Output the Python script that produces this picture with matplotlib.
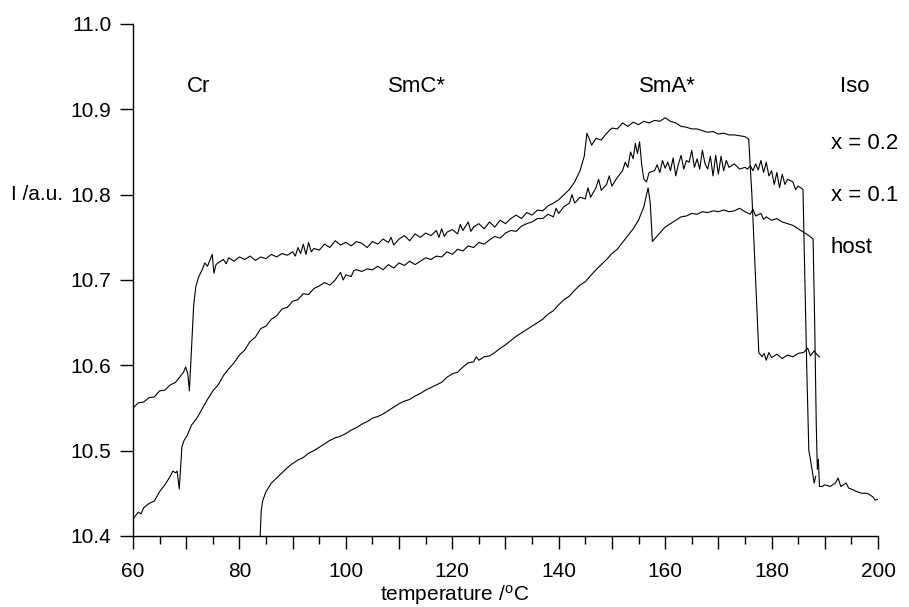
import matplotlib
matplotlib.use("Agg")
import matplotlib.pyplot as plt
from matplotlib.ticker import MultipleLocator, FuncFormatter

plt.rcParams['font.family'] = ['Liberation Sans', 'DejaVu Sans']
plt.rcParams['mathtext.default'] = 'regular'

# x = 0.2 sample (top plateau, drops at ~177 C)
t_02 = [60, 61, 62, 63, 64, 65, 66, 67, 68, 69, 69.5, 69.9, 70.3, 70.6, 71.0, 71.4, 71.8, 72.3, 73.0, 73.5,
        74.0, 74.5, 74.9, 75.2, 75.6, 76, 77, 77.5, 78, 79, 80, 81, 82, 83, 84, 85, 86, 87, 88, 89,
        90, 90.5, 91, 91.5, 92, 92.5, 93, 93.5, 94, 95, 96, 97, 98, 99, 100, 101, 102, 103, 104, 105,
        106, 107, 108, 108.5, 109, 110, 111, 112, 113, 114, 115, 116, 117, 117.5, 118, 118.5, 119, 120, 121, 121.5,
        122, 123, 123.5, 124, 125, 126, 127, 128, 129, 130, 131, 132, 133, 134, 135, 136, 137, 138, 139, 140,
        141, 142, 143, 144, 144.8, 145.3, 145.7, 146.2, 147, 148, 149, 150, 151, 152, 153, 154, 155, 156, 157, 158,
        159, 160, 161, 162, 163, 164, 165, 166, 167, 168, 169, 170, 171, 172, 173, 174, 175, 175.7, 176.3, 177.0,
        177.6, 178.2, 178.6, 179, 179.5, 180, 181, 182, 183, 184, 185, 186, 186.8, 187.3, 188, 188.6, 189]
i_02 = [10.550, 10.556, 10.557, 10.562, 10.563, 10.570, 10.571, 10.577, 10.580, 10.588, 10.592, 10.598, 10.590, 10.570, 10.620, 10.670, 10.692, 10.703, 10.712, 10.720,
        10.716, 10.724, 10.730, 10.708, 10.718, 10.720, 10.724, 10.719, 10.726, 10.722, 10.727, 10.724, 10.728, 10.723, 10.727, 10.725, 10.730, 10.727, 10.731, 10.729,
        10.733, 10.728, 10.738, 10.731, 10.742, 10.730, 10.744, 10.733, 10.737, 10.735, 10.742, 10.738, 10.746, 10.741, 10.744, 10.740, 10.745, 10.743, 10.738, 10.745,
        10.742, 10.748, 10.744, 10.750, 10.741, 10.748, 10.752, 10.746, 10.754, 10.750, 10.755, 10.752, 10.758, 10.750, 10.760, 10.751, 10.756, 10.759, 10.754, 10.765,
        10.758, 10.768, 10.757, 10.762, 10.766, 10.760, 10.768, 10.762, 10.770, 10.766, 10.772, 10.776, 10.772, 10.779, 10.776, 10.782, 10.781, 10.787, 10.790, 10.794,
        10.800, 10.806, 10.815, 10.828, 10.845, 10.872, 10.866, 10.858, 10.866, 10.864, 10.872, 10.878, 10.877, 10.884, 10.880, 10.885, 10.882, 10.886, 10.884, 10.887,
        10.886, 10.890, 10.886, 10.884, 10.880, 10.879, 10.877, 10.877, 10.875, 10.873, 10.874, 10.871, 10.872, 10.870, 10.870, 10.869, 10.868, 10.865, 10.800, 10.700,
        10.615, 10.610, 10.614, 10.606, 10.615, 10.609, 10.613, 10.608, 10.612, 10.610, 10.614, 10.615, 10.620, 10.611, 10.617, 10.612, 10.610]

# x = 0.1 sample (middle plateau, drops at ~186 C)
t_01 = [60, 60.5, 61, 61.5, 62, 63, 64, 65, 66, 67, 67.5, 68, 68.3, 68.7, 69.2, 69.6, 70.2, 71, 72, 73,
        74, 75, 76, 77, 78, 79, 80, 81, 82, 83, 84, 85, 86, 87, 88, 89, 90, 91, 92, 93,
        94, 95, 96, 97, 98, 99, 99.5, 100, 101, 101.5, 102, 103, 104, 105, 106, 107, 108, 109, 110, 111,
        112, 113, 114, 115, 116, 117, 118, 119, 120, 121, 122, 123, 124, 125, 126, 127, 128, 129, 130, 131,
        132, 133, 134, 135, 136, 137, 138, 139, 139.5, 140, 141, 142, 142.5, 143, 144, 145, 145.5, 146, 147, 147.5,
        148, 149, 149.5, 150, 151, 152, 152.5, 153, 153.5, 154, 154.4, 154.8, 155.2, 155.6, 156, 156.5, 157, 158, 158.5, 159,
        159.5, 160, 160.5, 161, 161.5, 162, 162.5, 163, 163.5, 164, 164.5, 165, 165.5, 166, 166.5, 167, 167.5, 168, 168.5, 169,
        169.5, 170, 170.5, 171, 171.5, 172, 173, 174, 175, 175.5, 176, 176.5, 177, 177.5, 178, 178.5, 179, 179.5, 180, 180.5,
        181, 181.5, 182, 182.5, 183, 184, 184.5, 185, 185.5, 185.9, 186.2, 186.6, 187.0, 187.3, 187.6, 188.0, 188.3]
i_01 = [10.420, 10.424, 10.428, 10.426, 10.433, 10.438, 10.441, 10.452, 10.460, 10.470, 10.476, 10.474, 10.476, 10.455, 10.505, 10.512, 10.518, 10.530, 10.538, 10.549,
        10.560, 10.570, 10.577, 10.588, 10.596, 10.603, 10.612, 10.618, 10.628, 10.633, 10.643, 10.646, 10.654, 10.658, 10.666, 10.668, 10.675, 10.677, 10.684, 10.683,
        10.690, 10.693, 10.697, 10.694, 10.700, 10.709, 10.700, 10.706, 10.704, 10.711, 10.712, 10.710, 10.713, 10.712, 10.716, 10.712, 10.718, 10.714, 10.720, 10.717,
        10.722, 10.718, 10.722, 10.726, 10.724, 10.728, 10.727, 10.733, 10.730, 10.736, 10.734, 10.740, 10.738, 10.744, 10.742, 10.747, 10.751, 10.749, 10.755, 10.758,
        10.757, 10.763, 10.766, 10.768, 10.772, 10.772, 10.777, 10.774, 10.784, 10.778, 10.786, 10.790, 10.800, 10.790, 10.797, 10.795, 10.808, 10.797, 10.808, 10.818,
        10.805, 10.812, 10.822, 10.810, 10.820, 10.828, 10.838, 10.832, 10.850, 10.842, 10.860, 10.848, 10.862, 10.835, 10.818, 10.815, 10.826, 10.828, 10.835, 10.826,
        10.840, 10.831, 10.838, 10.828, 10.843, 10.822, 10.836, 10.846, 10.830, 10.840, 10.838, 10.852, 10.832, 10.842, 10.830, 10.852, 10.836, 10.830, 10.845, 10.822,
        10.846, 10.824, 10.845, 10.828, 10.840, 10.832, 10.836, 10.830, 10.832, 10.830, 10.834, 10.828, 10.836, 10.829, 10.840, 10.826, 10.838, 10.822, 10.828, 10.812,
        10.826, 10.808, 10.824, 10.812, 10.818, 10.815, 10.806, 10.810, 10.808, 10.806, 10.720, 10.600, 10.500, 10.490, 10.478, 10.462, 10.470]

# host (bottom curve, drops at ~188 C)
t_host = [83.9, 84.1, 84.4, 85, 86, 87, 88, 89, 90, 91, 92, 93, 94, 95, 96, 97, 98, 99, 100, 101,
          102, 103, 104, 105, 106, 107, 108, 109, 110, 111, 112, 113, 114, 115, 116, 117, 118, 119, 120, 121,
          122, 123, 124, 124.5, 125, 126, 127, 128, 129, 130, 131, 132, 133, 134, 135, 136, 137, 138, 139, 140,
          141, 142, 143, 144, 145, 146, 147, 148, 149, 150, 151, 152, 153, 154, 155, 156, 156.8, 157.2, 157.6, 158,
          159, 160, 161, 162, 163, 164, 165, 166, 167, 168, 169, 170, 171, 172, 173, 174, 175, 176, 176.5, 177,
          178, 178.5, 179, 180, 181, 182, 183, 184, 185, 186, 187, 187.8, 188.1, 188.4, 188.6, 188.8, 189.0, 189.5, 190, 191,
          192, 192.5, 193, 194, 194.5, 195, 196, 197, 198, 199, 199.5, 200]
i_host = [10.400, 10.430, 10.442, 10.452, 10.462, 10.468, 10.474, 10.480, 10.485, 10.489, 10.492, 10.497, 10.500, 10.504, 10.508, 10.512, 10.515, 10.517, 10.520, 10.524,
          10.527, 10.531, 10.534, 10.538, 10.540, 10.543, 10.547, 10.551, 10.555, 10.558, 10.560, 10.564, 10.567, 10.571, 10.574, 10.577, 10.580, 10.586, 10.590, 10.592,
          10.598, 10.603, 10.604, 10.610, 10.606, 10.610, 10.611, 10.615, 10.620, 10.624, 10.629, 10.634, 10.638, 10.642, 10.646, 10.650, 10.654, 10.660, 10.664, 10.671,
          10.677, 10.681, 10.688, 10.694, 10.698, 10.705, 10.712, 10.718, 10.724, 10.731, 10.736, 10.744, 10.752, 10.760, 10.770, 10.786, 10.808, 10.790, 10.745, 10.748,
          10.755, 10.762, 10.766, 10.770, 10.774, 10.775, 10.778, 10.777, 10.780, 10.779, 10.781, 10.780, 10.782, 10.780, 10.781, 10.784, 10.780, 10.777, 10.783, 10.775,
          10.778, 10.771, 10.774, 10.770, 10.772, 10.768, 10.766, 10.764, 10.760, 10.756, 10.752, 10.748, 10.650, 10.530, 10.478, 10.490, 10.458, 10.458, 10.460, 10.458,
          10.462, 10.468, 10.458, 10.462, 10.456, 10.455, 10.452, 10.450, 10.450, 10.446, 10.442, 10.443]

phases = ["Cr", "SmC*", "SmA*", "Iso"]
phase_t = [72.3, 113.4, 160.4, 195.7]
series_names = ["x = 0.2", "x = 0.1", "host"]
series_label_i = [10.860, 10.799, 10.738]

fig = plt.figure(figsize=(9.09, 6.07), dpi=100)
ax = fig.add_axes([0.1463, 0.117, 0.8196, 0.8435])

for t, i in [(t_02, i_02), (t_01, i_01), (t_host, i_host)]:
    ax.plot(t, i, color='black', linewidth=0.8)

ax.set_xlim(60, 200)
ax.set_ylim(10.4, 11.0)
ax.spines['top'].set_visible(False)
ax.spines['right'].set_visible(False)
ax.spines['left'].set_linewidth(1.0)
ax.spines['bottom'].set_linewidth(1.0)

# long ticks every 10, labels only every 20, short ticks every 5
ax.xaxis.set_major_locator(MultipleLocator(10))
ax.xaxis.set_minor_locator(MultipleLocator(5))
ax.xaxis.set_major_formatter(FuncFormatter(lambda v, p: "%d" % v if round(v) % 20 == 0 else ""))
ax.yaxis.set_major_locator(MultipleLocator(0.1))
ax.yaxis.set_major_formatter(FuncFormatter(lambda v, p: "%.1f" % v))
ax.tick_params(axis='x', which='major', direction='out', length=9.5, width=1.0, pad=9, labelsize=15)
ax.tick_params(axis='x', which='minor', direction='out', length=5.5, width=1.0)
ax.tick_params(axis='y', which='major', direction='out', length=9.5, width=1.0, pad=6, labelsize=15)

for name, t in zip(phases, phase_t):
    ax.text(t, 10.927, name, ha='center', va='center', fontsize=16)
for name, i in zip(series_names, series_label_i):
    ax.text(191.1, i, name, ha='left', va='center', fontsize=16, clip_on=False)

ax.text(-0.164, 10.8, "I /a.u.", transform=ax.get_yaxis_transform(), ha='left', va='center', fontsize=15)
fig.text(0.5, 0.0, r"temperature /$^{o}$C", ha='center', va='bottom', fontsize=15)

fig.savefig("out.png", dpi=100)
